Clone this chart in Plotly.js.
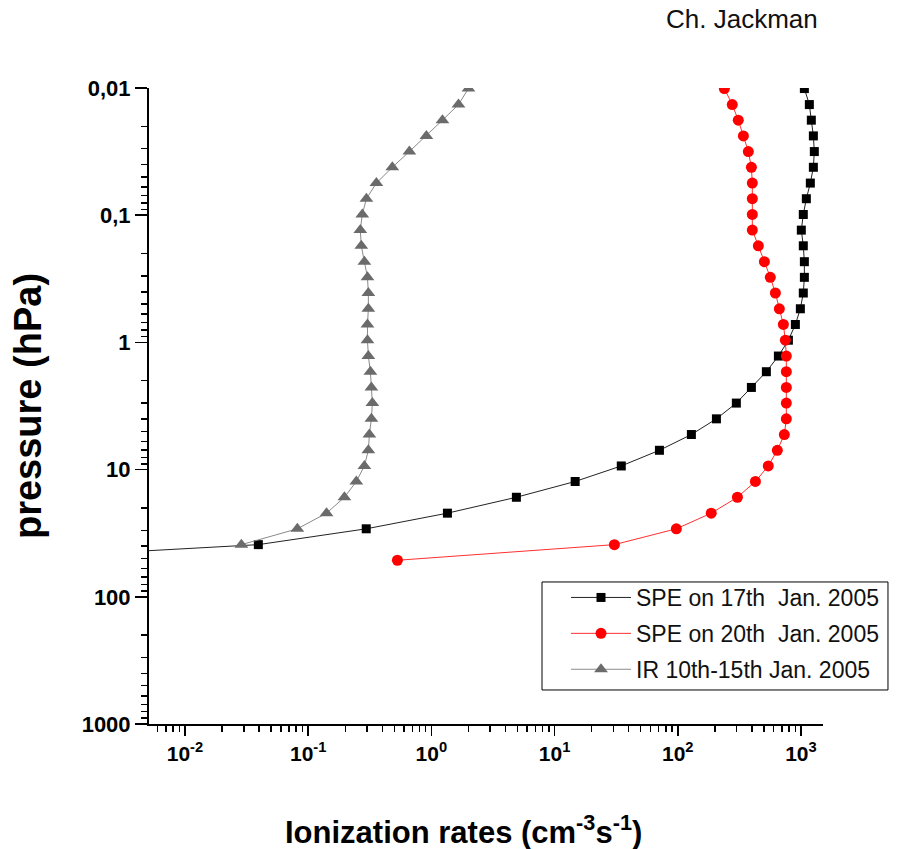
<!DOCTYPE html>
<html>
<head>
<meta charset="utf-8">
<script src="https://cdn.plot.ly/plotly-3.0.1.min.js"></script>
<style>html,body{margin:0;padding:0;background:#fff;}</style>
</head>
<body>
<div id="chart" style="width:912px;height:849px;"></div>
<script>
// Pressure levels (hPa) shared by the profiles
const pressure = [0.0101, 0.0135, 0.0179, 0.0238, 0.0316, 0.0420, 0.0559, 0.0742, 0.0987, 0.131,
  0.174, 0.232, 0.308, 0.409, 0.544, 0.723, 0.961, 1.28, 1.70, 2.26,
  3.00, 3.99, 5.30, 7.05, 9.36, 12.4, 16.5, 22.0, 29.2, 38.9, 51.6];

// Ionization rates (cm^-3 s^-1)
const spe17 = [1066, 1170, 1214, 1261, 1284, 1261, 1192, 1106, 1045, 1007,
  1045, 1066, 1066, 1045, 989, 901, 791, 656, 524, 396,
  299, 206, 129, 71, 34.8, 14.7, 4.90, 1.35, 0.296, 0.0394, 0.0002];
const spe20 = [239, 277, 310, 341, 374, 396, 403, 403, 403, 403,
  451, 505, 564, 620, 668, 720, 747, 761, 761, 761,
  761, 761, 733, 643, 543, 427, 305, 187, 97.4, 30.6, 0.530];
const ir = [2.00, 1.66, 1.23, 0.911, 0.663, 0.482, 0.358, 0.297, 0.275, 0.265,
  0.270, 0.286, 0.303, 0.308, 0.308, 0.303, 0.303, 0.308, 0.320, 0.326,
  0.332, 0.326, 0.314, 0.308, 0.286, 0.246, 0.197, 0.141, 0.0817, 0.0287];
const irPressure = pressure.slice(0, ir.length);

const seriesNames = ['SPE on 17th\u00A0 Jan. 2005', 'SPE on 20th\u00A0 Jan. 2005', 'IR 10th-15th Jan. 2005'];

// Axis ticks
const xTickVals = [0.01, 0.1, 1, 10, 100, 1000];
const xTickText = ['10<sup>-2</sup>', '10<sup>-1</sup>', '10<sup>0</sup>', '10<sup>1</sup>', '10<sup>2</sup>', '10<sup>3</sup>'];
const yTickVals = [0.01, 0.1, 1, 10, 100, 1000];
const yTickText = ['0,01', '0,1', '1', '10', '100', '1000'];

const xTitle = 'Ionization rates (cm<sup>-3</sup>s<sup>-1</sup>)';
const yTitle = 'pressure (hPa)';
const credit = 'Ch. Jackman';

function minorVals(lo, hi) {
  const v = [];
  for (let e = lo; e <= hi; e++) for (let d = 2; d <= 9; d++) v.push(d * Math.pow(10, e));
  return v;
}

const sans = '"Liberation Sans", Arial, sans-serif';

const traces = [
  {x: spe17, y: pressure, name: seriesNames[0], type: 'scatter', mode: 'lines+markers',
   legendgroup: 'a',
   line: {color: '#222222', width: 1}, marker: {symbol: 'square', size: 9, color: '#000000'}},
  {x: spe20, y: pressure, name: seriesNames[1], type: 'scatter', mode: 'lines+markers',
   legendgroup: 'b',
   line: {color: '#ff3030', width: 1}, marker: {symbol: 'circle', size: 11, color: '#ff0000'}},
  {x: ir, y: irPressure, name: seriesNames[2], type: 'scatter', mode: 'lines+markers',
   legendgroup: 'c',
   line: {color: '#8a8a8a', width: 1}, marker: {symbol: 'triangle-up', size: 12, color: '#6b6b6b'}}
];

const tickCommon = {
  type: 'log', showline: true, linecolor: '#000', linewidth: 2, ticks: 'outside',
  tickcolor: '#000', tickwidth: 1.5, showgrid: false, zeroline: false, mirror: false,
  tickmode: 'array'
};

const layout = {
  width: 912, height: 849,
  margin: {l: 149, r: 89, t: 88, b: 125},
  paper_bgcolor: '#fff', plot_bgcolor: '#fff',
  font: {family: sans, color: '#000'},
  showlegend: true,
  legend: {
    x: 0.6187, y: 0.2327, xanchor: 'left', yanchor: 'top',
    borderwidth: 0, bgcolor: 'rgba(0,0,0,0)',
    font: {family: sans, size: 23, color: '#111'},
    tracegroupgap: 3, itemwidth: 60
  },
  shapes: [
    {type: 'rect', xref: 'paper', yref: 'paper', x0: 0.5831, x1: 1.0964, y0: 0.0535, y1: 0.2233,
     line: {color: '#000', width: 1}, fillcolor: 'rgba(0,0,0,0)', layer: 'above'}
  ],
  xaxis: Object.assign({}, tickCommon, {
    range: [-2.292, 3.179], ticklen: 10,
    tickvals: xTickVals, ticktext: xTickText,
    tickfont: {family: sans, size: 21, weight: 700},
    minor: {tickmode: 'array', tickvals: minorVals(-3, 3), ticks: 'outside', ticklen: 6,
            tickwidth: 1.5, tickcolor: '#000', showgrid: false}
  }),
  yaxis: Object.assign({}, tickCommon, {
    range: [3, -2], ticklen: 12,
    tickvals: yTickVals, ticktext: yTickText,
    tickfont: {family: sans, size: 22, weight: 700},
    minor: {tickmode: 'array', tickvals: minorVals(-2, 2), ticks: 'outside', ticklen: 6,
            tickwidth: 1.5, tickcolor: '#000', showgrid: false},
    title: {text: yTitle, standoff: 28,
            font: {family: sans, size: 38, weight: 700}}
  }),
  annotations: [
    {text: xTitle, xref: 'paper', yref: 'paper', x: 0.4659, y: -0.167,
     xanchor: 'center', yanchor: 'middle', showarrow: false,
     font: {family: sans, size: 31, weight: 700, color: '#000'}},
    {text: credit, xref: 'paper', yref: 'paper', x: 0.88, y: 1.1085,
     xanchor: 'center', yanchor: 'middle', showarrow: false,
     font: {family: sans, size: 26, color: '#111'}}
  ]
};

Plotly.newPlot('chart', traces, layout, {displayModeBar: false, staticPlot: true});
</script>
</body>
</html>
